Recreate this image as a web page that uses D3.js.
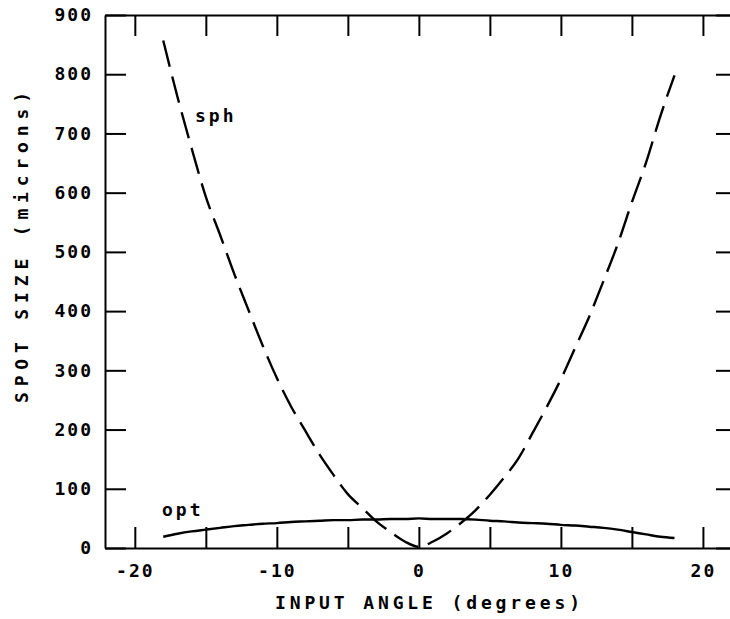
<!DOCTYPE html>
<html>
<head>
<meta charset="utf-8">
<script src="https://cdn.jsdelivr.net/npm/d3@7"></script>
<style>
   body { margin: 0; background: #fff; }
   text { font-family: "DejaVu Sans Mono", monospace; fill: #000; font-weight: bold; }
</style>
</head>
<body>
<svg id="spotGraph"></svg>
<script>
// input angles (degrees)
var angles = [-18, -17, -16, -15, -14, -13, -12, -11, -10, -9, -8, -7, -6, -5, -4, -3, -2, -1,
   0, 1, 2, 3, 4, 5, 6, 7, 8, 9, 10, 11, 12, 13, 14, 15, 16, 17, 18];

// spot size, spherical (dashed)
var sphValues = [857, 762, 675, 593, 529, 463, 402, 342, 287, 239, 198, 158, 123, 91, 68, 45, 27, 11,
   2, 11, 25, 43, 64, 90, 119, 151, 194, 238, 285, 338, 391, 451, 513, 584, 651, 729, 798];

// spot size, optimized (solid)
var optValues = [19, 24, 28, 31, 34, 37, 39, 41, 42, 44, 45, 46, 47, 47, 48, 48, 49, 49,
   50, 49, 49, 49, 48, 46, 45, 43, 42, 41, 39, 38, 36, 34, 31, 27, 23, 19, 17];

var xTicks = [-20, -15, -10, -5, 0, 5, 10, 15, 20];
var xLabels = [-20, -10, 0, 10, 20];
var yTicks = [0, 100, 200, 300, 400, 500, 600, 700, 800, 900];

var width = 730,
   height = 619;

var svg = d3.select("svg#spotGraph").attr("width", width).attr("height", height);

var x = d3.scaleLinear().domain([-22.1, 22.4]).range([105, 737]);
var y = d3.scaleLinear().domain([0, 900]).range([548, 15]);

var tickLen = 21;

// bottom axis with labels
svg
   .append("g")
   .attr("transform", "translate(0," + y(0) + ")")
   .call(
      d3
         .axisBottom(x)
         .tickValues(xTicks)
         .tickSizeInner(-tickLen)
         .tickSizeOuter(0)
         .tickPadding(16)
         .tickFormat(function (d) {
            return xLabels.indexOf(d) >= 0 ? String(d) : "";
         })
   );

// top axis, ticks only
svg
   .append("g")
   .attr("transform", "translate(0," + y(900) + ")")
   .call(d3.axisTop(x).tickValues(xTicks).tickSizeInner(-tickLen).tickSizeOuter(0).tickFormat(""));

// left axis with labels
svg
   .append("g")
   .attr("transform", "translate(" + x.range()[0] + ",0)")
   .call(d3.axisLeft(y).tickValues(yTicks).tickSizeInner(-tickLen).tickSizeOuter(0).tickPadding(12));

// right axis, ticks only
svg
   .append("g")
   .attr("transform", "translate(" + x.range()[1] + ",0)")
   .call(d3.axisRight(y).tickValues(yTicks).tickSizeInner(-tickLen).tickSizeOuter(0).tickFormat(""));

svg.selectAll(".domain, .tick line").attr("stroke", "#000").attr("stroke-width", 2);
svg
   .selectAll(".tick text")
   .attr("font-family", "DejaVu Sans Mono")
   .attr("font-weight", "bold")
   .attr("font-size", 18)
   .attr("letter-spacing", "2px")
   .attr("fill", "#000");

// axis titles
svg
   .append("text")
   .attr("x", 275)
   .attr("y", 609)
   .attr("font-size", 18)
   .attr("textLength", 305)
   .attr("lengthAdjust", "spacing")
   .text("INPUT ANGLE (degrees)");

svg
   .append("text")
   .attr("transform", "translate(28,403) rotate(-90)")
   .attr("font-size", 18)
   .attr("textLength", 311)
   .attr("lengthAdjust", "spacing")
   .text("SPOT SIZE (microns)");

var line = d3
   .line()
   .curve(d3.curveMonotoneX)
   .x(function (d, i) {
      return x(angles[i]);
   })
   .y(function (d) {
      return y(d);
   });

// spherical curve, dashed
svg
   .append("path")
   .datum(sphValues)
   .attr("fill", "none")
   .attr("stroke", "#000")
   .attr("stroke-width", 2.4)
   .attr("stroke-dasharray", "27,10")
   .attr("d", line);

// optimized curve, solid
svg
   .append("path")
   .datum(optValues)
   .attr("fill", "none")
   .attr("stroke", "#000")
   .attr("stroke-width", 2.4)
   .attr("d", line);

// curve labels
svg.append("text").attr("x", 195).attr("y", 122).attr("font-size", 18).attr("letter-spacing", "3px").text("sph");
svg.append("text").attr("x", 162).attr("y", 516).attr("font-size", 18).attr("letter-spacing", "3px").text("opt");
</script>
</body>
</html>
